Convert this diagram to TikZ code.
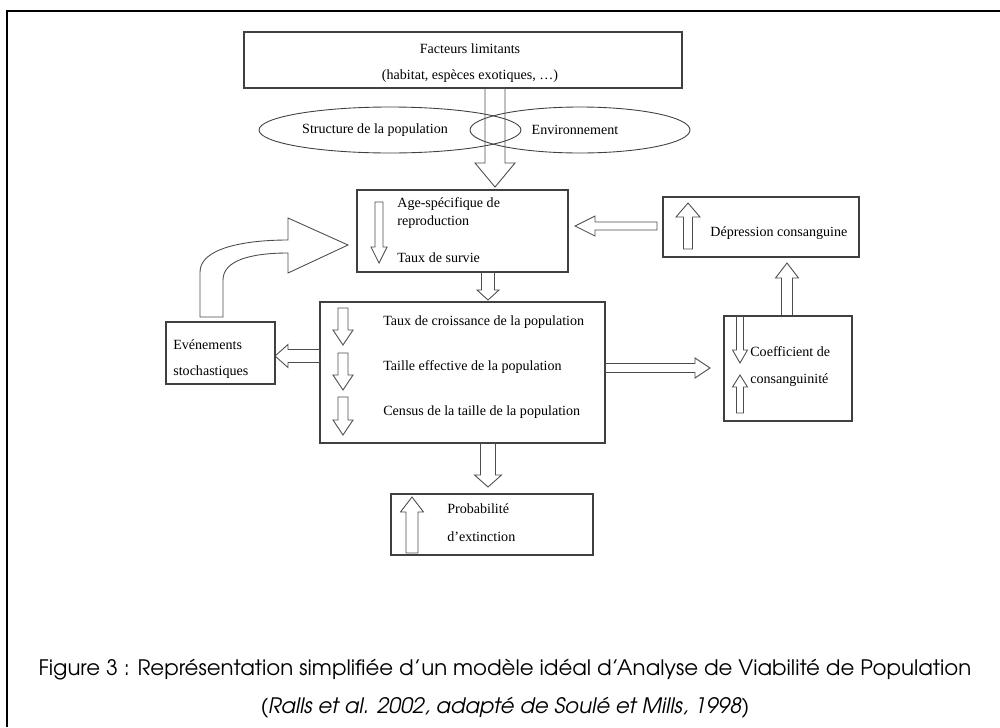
\documentclass[tikz,border=0pt]{standalone}
\usepackage{graphicx}
\usepackage{fontspec}
\setmainfont{Liberation Serif}
\newfontfamily\capfont{TeX Gyre Adventor}
\usetikzlibrary{fit,shapes.geometric}
\tikzset{
 box/.style={draw=black!75, line width=0.6pt, inner sep=0pt},
 barrow/.style={draw=black!70, line width=0.5pt, line join=miter},
 lbl/.style={font=\fontsize{8}{9.6}\selectfont, inner sep=0pt, anchor=west},
 clbl/.style={font=\fontsize{8}{9.6}\selectfont, inner sep=0pt},
 ell/.style={draw=black!75, line width=0.5pt, ellipse, inner sep=0pt},
 captxt/.style={font=\capfont\fontsize{12}{14}\selectfont, inner sep=0pt}
}
% vertical block arrow: x centre, shaft half width, head half width, y start, y head base, y tip
\newcommand\VArr[6]{\draw[barrow] ({#1-#2},#4) -- ({#1-#2},#5) -- ({#1-#3},#5) -- (#1,#6) -- ({#1+#3},#5) -- ({#1+#2},#5) -- ({#1+#2},#4) -- cycle;}
% horizontal block arrow: y centre, shaft half width, head half width, x start, x head base, x tip
\newcommand\HArr[6]{\draw[barrow] (#4,{#1-#2}) -- (#5,{#1-#2}) -- (#5,{#1-#3}) -- (#6,#1) -- (#5,{#1+#3}) -- (#5,{#1+#2}) -- (#4,{#1+#2}) -- cycle;}
\begin{document}
\begin{tikzpicture}[x=0.02cm,y=-0.02cm]
\useasboundingbox (0,0) rectangle (1000,727);
\draw[line width=1.1pt] (7,727) -- (7,11) -- (1000,11);

% top box
\node[box, fit={(244,32) (682,88)}] (fact) {};
\node[clbl] (factT) at (470,49) {Facteurs limitants};
\node[clbl] (factS) at (470,76) {(habitat, espèces exotiques, \dots)};

% ellipses
\node[ell, minimum width=5.24cm, minimum height=0.92cm] (struct) at (390,130) {};
\node[clbl] (structT) at (375,130) {Structure de la population};
\node[ell, minimum width=4.4cm, minimum height=0.92cm] (env) at (580,130) {};
\node[clbl] (envT) at (575,130) {Environnement};

\VArr{495}{10}{20}{88}{163}{187}

% age box
\node[box, fit={(357,190) (568,272)}] (age) {};
\VArr{379}{4}{8}{202}{247}{263}
\node[lbl] (ageA) at (397,204) {Age-spécifique de};
\node[lbl] (ageB) at (397,222) {reproduction};
\node[lbl] (ageC) at (397,258) {Taux de survie};

\VArr{488}{6.5}{11}{272}{290}{300}

% main box
\node[box, fit={(320,302) (605,443)}] (main) {};
\VArr{343}{5}{10}{308}{330}{345}
\VArr{343}{5}{10}{353}{375}{390}
\VArr{343}{5}{10}{397}{420}{435}
\node[lbl] (m1) at (383,322) {Taux de croissance de la population};
\node[lbl] (m2) at (383,367) {Taille effective de la population};
\node[lbl] (m3) at (383,412) {Census de la taille de la population};

% stochastic events
\HArr{356}{6.5}{11.5}{320}{288}{275}
\node[box, fit={(166,322) (275,384)}] (evt) {};
\node[lbl] (evtA) at (173,345) {Evénements};
\node[lbl] (evtB) at (173,372) {stochastiques};

% curved arrow
\draw[barrow] (200,317) -- (200,272) .. controls (200,248) and (245,240) .. (288,240)
  -- (288,218) -- (348,245) -- (288,273) -- (288,253)
  .. controls (252,253) and (223,260) .. (223,280) -- (223,317) -- cycle;

% depression box
\node[box, fit={(663,197) (859,257)}] (dep) {};
\VArr{688}{4.5}{12}{249}{217}{203}
\node[lbl] (depT) at (710,233) {Dépression consanguine};
\HArr{226}{4}{10}{657}{595}{575}
\VArr{787}{5.5}{11.5}{316}{278}{263}

% coefficient box
\node[box, fit={(724,316) (852,421)}] (coef) {};
\VArr{740}{3.5}{7.5}{316}{350}{363}
\VArr{740}{3.5}{7.5}{413}{387}{375}
\node[lbl] (coefA) at (750,352) {Coefficient de};
\node[lbl] (coefB) at (750,380) {consanguinité};
\HArr{368}{4.5}{10}{605}{695}{710}

% probability box
\VArr{488}{7.5}{13.5}{443}{475}{487}
\node[box, fit={(391,494) (593,555)}] (prob) {};
\VArr{412}{6}{11.5}{553}{512}{497}
\node[lbl] (probA) at (447,509) {Probabilité};
\node[lbl] (probB) at (447,537) {d’extinction};

% caption
\node[captxt] (cap1) at (505,670) {\resizebox{18.66cm}{!}{Figure 3 : Représentation simplifiée d’un modèle idéal d’Analyse de Viabilité de Population}};
\node[captxt] (cap2) at (505,708) {\resizebox{9.78cm}{!}{(\textit{Ralls et al. 2002, adapté de Soulé et Mills, 1998})}};
\end{tikzpicture}
\end{document}
